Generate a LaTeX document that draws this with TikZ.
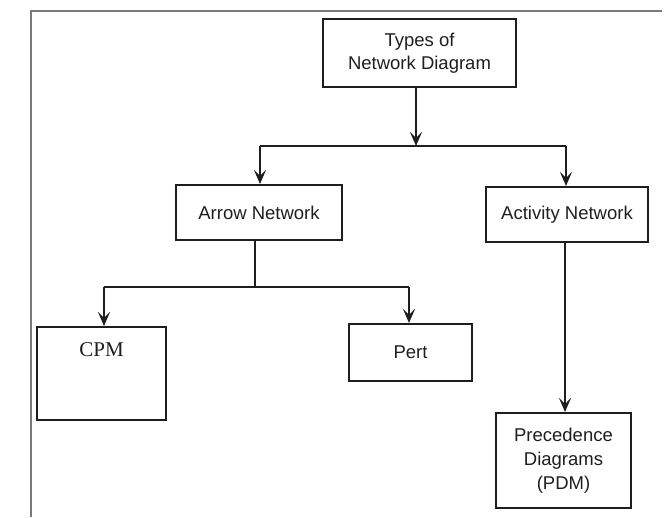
\documentclass[tikz,border=0pt]{standalone}
\usepackage{fontspec}
\setmainfont{Liberation Sans}
\newfontfamily\serifface{Liberation Serif}
\usetikzlibrary{arrows.meta}

\definecolor{ink}{HTML}{1E1E1E}
\definecolor{framegray}{HTML}{7A7A7A}

\tikzset{
  box/.style={draw=ink, line width=2pt, rectangle, inner sep=2pt,
    align=center, text=ink, font=\fontsize{18.5}{23}\selectfont},
  wire/.style={draw=ink, line width=1.8pt},
  arr/.style={wire, -{Stealth[length=14pt, width=12pt, inset=6pt]}},
  frameline/.style={draw=framegray, line width=1.4pt}
}

\begin{document}
\begin{tikzpicture}[x=1pt, y=-1pt]
  \useasboundingbox (0,0) rectangle (666,517);

  % outer page edges
  \coordinate (ftl) at (31,11);
  \coordinate (ftr) at (662,11);
  \coordinate (fbl) at (31,517);
  \draw[frameline] (ftr) -- (ftl) -- (fbl);

  % boxes
  \node[box, minimum width=193pt, minimum height=68pt] (top) at (419.5,53)
    {Types of\\Network Diagram};
  \node[box, minimum width=166pt, minimum height=55pt] (arrnet) at (259,212.5)
    {Arrow Network};
  \node[box, minimum width=162pt, minimum height=55pt] (actnet) at (567,214.5)
    {Activity Network};
  \node[box, minimum width=129pt, minimum height=93pt] (cpm) at (101.5,373.5) {};
  \node[text=ink, font=\serifface\fontsize{21}{24}\selectfont] (cpmtext) at (101.5,350) {CPM};
  \node[box, minimum width=123pt, minimum height=57pt] (pert) at (410.5,352.5)
    {Pert};
  \node[box, minimum width=135pt, minimum height=95pt, font=\fontsize{18.5}{24}\selectfont]
    (pdm) at (563.5,460.5) {Precedence\\Diagrams\\(PDM)};

  % first split
  \coordinate (j1) at (416,146);
  \coordinate (bl) at (260,146);
  \coordinate (br) at (566,146);
  \draw[arr] (j1 |- top.south) -- (j1);
  \draw[wire] (bl) -- (br);
  \draw[arr] (bl) -- (bl |- arrnet.north);
  \draw[arr] (br) -- (br |- actnet.north);

  % arrow network split
  \coordinate (j2) at (255,287);
  \coordinate (cl) at (104,287);
  \coordinate (cr) at (409,287);
  \draw[wire] (j2 |- arrnet.south) -- (j2);
  \draw[wire] (cl) -- (cr);
  \draw[arr] (cl) -- (cl |- cpm.north);
  \draw[arr] (cr) -- (cr |- pert.north);

  % activity network branch
  \coordinate (j3) at (565,242);
  \draw[arr] (j3) -- (j3 |- pdm.north);
\end{tikzpicture}
\end{document}
